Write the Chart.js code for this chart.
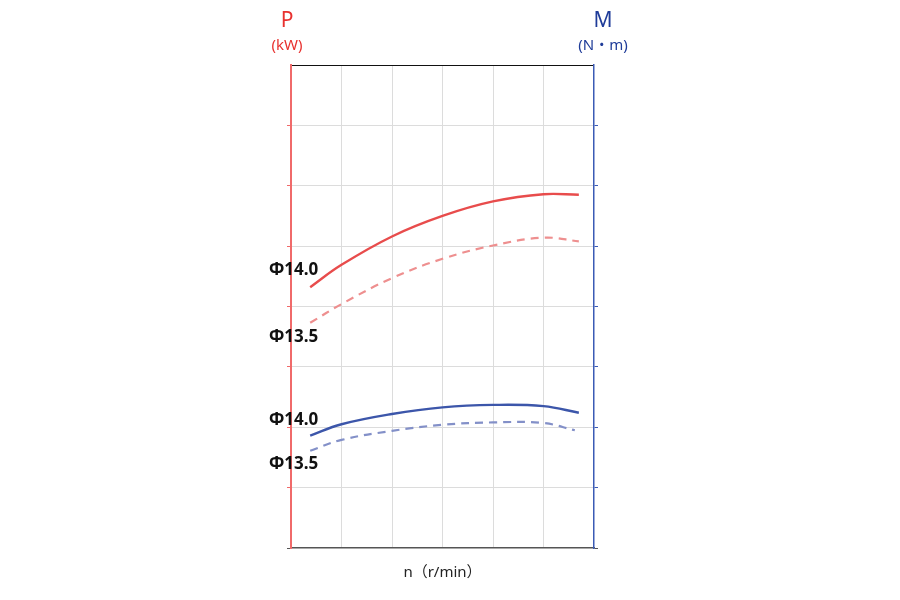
<!DOCTYPE html>
<html>
<head>
<meta charset="utf-8">
<script src="https://cdn.jsdelivr.net/npm/chart.js@4.4.1/dist/chart.umd.min.js"></script>
<style>
  body { margin: 0; background: #fff; }
  #wrap { width: 900px; height: 600px; position: relative; }
</style>
</head>
<body>
<div id="wrap"><canvas id="chart"></canvas></div>
<script>
// speed (r/min) sampled along each curve
const speedP = [190, 500, 1000, 1500, 2000, 2500, 2850];
const speedM140 = [190, 500, 1000, 1500, 2000, 2500, 2850];
const speedM135 = [190, 500, 1000, 1500, 2000, 2500, 2810];

// power P (kW), grid units
const power140 = [4.32, 4.69, 5.16, 5.50, 5.74, 5.86, 5.85];
const power135 = [3.73, 4.04, 4.47, 4.79, 5.01, 5.14, 5.08];

// torque M (N·m), grid units
const torque140 = [1.86, 2.05, 2.22, 2.33, 2.37, 2.35, 2.24];
const torque135 = [1.61, 1.79, 1.94, 2.04, 2.08, 2.07, 1.95];

const RED = '#e84c4c';
const BLUE = '#3c56aa';
const FONT = '"Noto Sans", "Noto Sans CJK JP", sans-serif';

function toPoints(xs, ys) {
  return xs.map((x, i) => ({ x: x, y: ys[i] }));
}

// axis headers and diameter labels
const labelPlugin = {
  id: 'labels',
  afterDraw(chart) {
    const ctx = chart.ctx;
    const area = chart.chartArea;
    const yP = chart.scales.yP;
    ctx.save();
    ctx.textAlign = 'center';
    ctx.textBaseline = 'middle';

    ctx.fillStyle = '#e8312f';
    ctx.font = '21px ' + FONT;
    ctx.fillText('P', area.left - 4, 21);
    ctx.font = '15px ' + FONT;
    ctx.fillText('(kW)', area.left - 4, 46);

    ctx.fillStyle = '#1f3c99';
    ctx.font = '21px ' + FONT;
    ctx.fillText('M', area.right + 9, 21);
    ctx.font = '15px ' + FONT;
    ctx.fillText('(N・m)', area.right + 9, 46);

    ctx.fillStyle = '#111';
    ctx.font = 'bold 17px ' + FONT;
    ctx.textAlign = 'left';
    [[4.61, 'Φ14.0'], [3.49, 'Φ13.5'], [2.11, 'Φ14.0'], [1.39, 'Φ13.5']].forEach(([v, t]) => {
      ctx.fillText(t, area.left - 22, yP.getPixelForValue(v));
    });
    ctx.restore();
  },
};

new Chart(document.getElementById('chart'), {
  type: 'line',
  data: {
    datasets: [
      {
        data: toPoints(speedP, power140),
        yAxisID: 'yP',
        borderColor: RED,
        borderWidth: 2.4,
      },
      {
        data: toPoints(speedP, power135),
        yAxisID: 'yP',
        borderColor: '#ee8f8f',
        borderWidth: 2.2,
        borderDash: [8, 6],
      },
      {
        data: toPoints(speedM140, torque140),
        yAxisID: 'yM',
        borderColor: BLUE,
        borderWidth: 2.4,
      },
      {
        data: toPoints(speedM135, torque135),
        yAxisID: 'yM',
        borderColor: '#8390c8',
        borderWidth: 2.2,
        borderDash: [8, 6],
      },
    ],
  },
  options: {
    responsive: true,
    maintainAspectRatio: false,
    animation: false,
    layout: { padding: { left: 287, right: 302, top: 65, bottom: 15 } },
    elements: {
      point: { radius: 0 },
      line: { tension: 0.4, fill: false },
    },
    plugins: {
      legend: { display: false },
      tooltip: { enabled: false },
    },
    scales: {
      x: {
        type: 'linear',
        min: 0,
        max: 3000,
        ticks: { stepSize: 500, display: false },
        grid: {
          drawTicks: false,
          color: (c) => (c.index === 0 || c.index === 6 ? 'transparent' : '#dcdcdc'),
        },
        border: { color: '#555', width: 1.5 },
        title: {
          display: true,
          text: 'n（r/min）',
          color: '#222',
          font: { family: FONT, size: 15 },
          padding: { top: 16, bottom: 3 },
        },
      },
      yP: {
        position: 'left',
        min: 0,
        max: 8,
        ticks: { stepSize: 1, display: false },
        grid: {
          tickLength: 4,
          color: (c) => (c.tick.value === 8 ? '#111' : c.tick.value === 0 ? 'transparent' : '#dcdcdc'),
          tickColor: (c) => (c.tick.value === 0 ? '#555' : c.tick.value === 8 ? 'transparent' : '#f06a6a'),
        },
        border: { color: '#f06a6a', width: 2 },
      },
      yM: {
        position: 'right',
        min: 0,
        max: 8,
        ticks: { stepSize: 1, display: false },
        grid: {
          drawOnChartArea: false,
          tickLength: 4,
          tickColor: (c) => (c.tick.value === 0 ? '#555' : c.tick.value === 8 ? 'transparent' : '#3b5bb5'),
        },
        border: { color: '#3b5bb5', width: 1.5 },
      },
    },
  },
  plugins: [labelPlugin],
});
</script>
</body>
</html>
